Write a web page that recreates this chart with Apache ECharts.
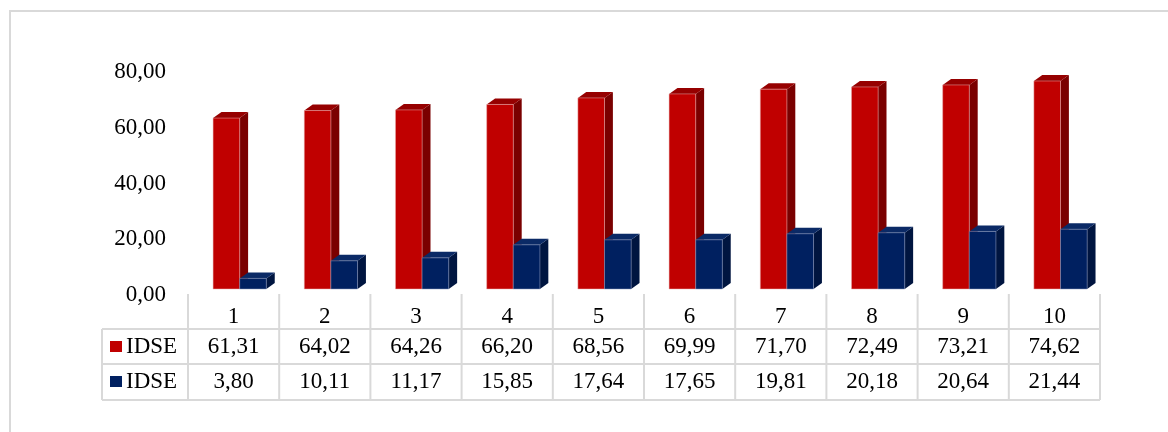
<!DOCTYPE html>
<html>
<head>
<meta charset="utf-8">
<script src="https://cdn.jsdelivr.net/npm/echarts@6/dist/echarts.min.js"></script>
<style>
  html, body { margin: 0; padding: 0; background: #fff; }
  #chart { width: 1168px; height: 432px; }
</style>
</head>
<body>
<div id="chart"></div>
<script>
const categories = ['1', '2', '3', '4', '5', '6', '7', '8', '9', '10'];
const seriesNames = ['IDSE', 'IDSE'];
const redValues = [61.31, 64.02, 64.26, 66.20, 68.56, 69.99, 71.70, 72.49, 73.21, 74.62];
const blueValues = [3.80, 10.11, 11.17, 15.85, 17.64, 17.65, 19.81, 20.18, 20.64, 21.44];
const yTicks = [0, 20, 40, 60, 80];

const FONT = '"Liberation Serif", "Times New Roman", serif';
const FS = 23;
const fmt = v => v.toFixed(2).replace('.', ',');

const gridLeft = 188, gridRight = 68, gridTop = 66, gridBottom = 143;
const W = 1168;
const plotRight = W - gridRight;
const colW = (plotRight - gridLeft) / categories.length;

// faces of one 3D column: front, side, top
const bar3d = (colors, offset) => (params, api) => {
    const idx = api.value(0);
    const p = api.coord([idx, api.value(1)]);
    const base = api.coord([idx, 0]);
    const bw = api.size([1, 0])[0];
    const x0 = p[0] + offset * bw;
    const w = bw * 0.292;
    const dx = bw * 0.092, dy = 6;
    const top = p[1], bot = base[1];
    return {
        type: 'group',
        children: [
            { type: 'polygon', shape: { points: [[x0 + w, top], [x0 + w + dx, top - dy], [x0 + w + dx, bot - dy], [x0 + w, bot]] },
              style: { fill: colors[1] } },
            { type: 'polygon', shape: { points: [[x0, top], [x0 + dx, top - dy], [x0 + w + dx, top - dy], [x0 + w, top]] },
              style: { fill: colors[2] } },
            { type: 'rect', shape: { x: x0, y: top, width: w, height: bot - top },
              style: { fill: colors[0], stroke: colors[3], lineWidth: 0.5 } }
        ]
    };
};

const redColors = ['#c00000', '#7a0000', '#960000', '#e8b0b0'];
const blueColors = ['#002060', '#001540', '#0b2a66', '#8c98bc'];
const keyColors = [redColors[0], blueColors[0]];

// data table under the plot
const lineColor = '#d9d9d9';
const rowY = [294, 329, 364, 400];
const textY = [317, 347, 382];
const tableLeft = 102;
const graphic = [];
graphic.push({ type: 'rect', shape: { x: 10, y: 11, width: 1200, height: 460 }, style: { fill: 'none', stroke: lineColor, lineWidth: 2 }, silent: true });
for (let i = 0; i <= categories.length; i++) {
    const x = gridLeft + i * colW;
    graphic.push({ type: 'line', shape: { x1: x, y1: rowY[0], x2: x, y2: rowY[3] }, style: { stroke: lineColor, lineWidth: 2 } });
}
graphic.push({ type: 'line', shape: { x1: tableLeft, y1: rowY[1], x2: tableLeft, y2: rowY[3] }, style: { stroke: lineColor, lineWidth: 2 } });
[1, 2, 3].forEach(r => {
    graphic.push({ type: 'line', shape: { x1: tableLeft, y1: rowY[r], x2: plotRight, y2: rowY[r] }, style: { stroke: lineColor, lineWidth: 2 } });
});
const rows = [categories, redValues.map(fmt), blueValues.map(fmt)];
rows.forEach((row, r) => {
    row.forEach((t, i) => {
        graphic.push({
            type: 'text', x: gridLeft + (i + 0.5) * colW, y: textY[r],
            style: { text: t, font: FS + 'px ' + FONT, fill: '#000', align: 'center', verticalAlign: 'middle' }
        });
    });
});
seriesNames.forEach((n, r) => {
    const cy = textY[r + 1];
    graphic.push({ type: 'rect', shape: { x: 110, y: cy - 6, width: 12, height: 11 }, style: { fill: keyColors[r] } });
    graphic.push({ type: 'text', x: 126, y: cy, style: { text: n, font: FS + 'px ' + FONT, fill: '#000', align: 'left', verticalAlign: 'middle' } });
});

const chart = echarts.init(document.getElementById('chart'));
chart.setOption({
    animation: false,
    backgroundColor: '#fff',
    grid: { left: gridLeft, right: gridRight, top: gridTop, bottom: gridBottom },
    xAxis: {
        type: 'category',
        data: categories,
        axisLine: { show: false },
        axisTick: { show: false },
        axisLabel: { show: false }
    },
    yAxis: {
        type: 'value',
        min: yTicks[0],
        max: yTicks[yTicks.length - 1],
        interval: 20,
        axisLine: { show: false },
        axisTick: { show: false },
        splitLine: { show: false },
        axisLabel: {
            formatter: v => fmt(v),
            fontFamily: FONT,
            fontSize: FS,
            color: '#000',
            margin: 22,
            verticalAlign: 'top',
            lineHeight: 12
        }
    },
    series: [
        {
            name: seriesNames[0], type: 'custom',
            renderItem: bar3d(redColors, -0.225),
            data: redValues.map((v, i) => [i, v])
        },
        {
            name: seriesNames[1], type: 'custom',
            renderItem: bar3d(blueColors, 0.067),
            data: blueValues.map((v, i) => [i, v])
        }
    ],
    graphic: graphic
});
</script>
</body>
</html>
